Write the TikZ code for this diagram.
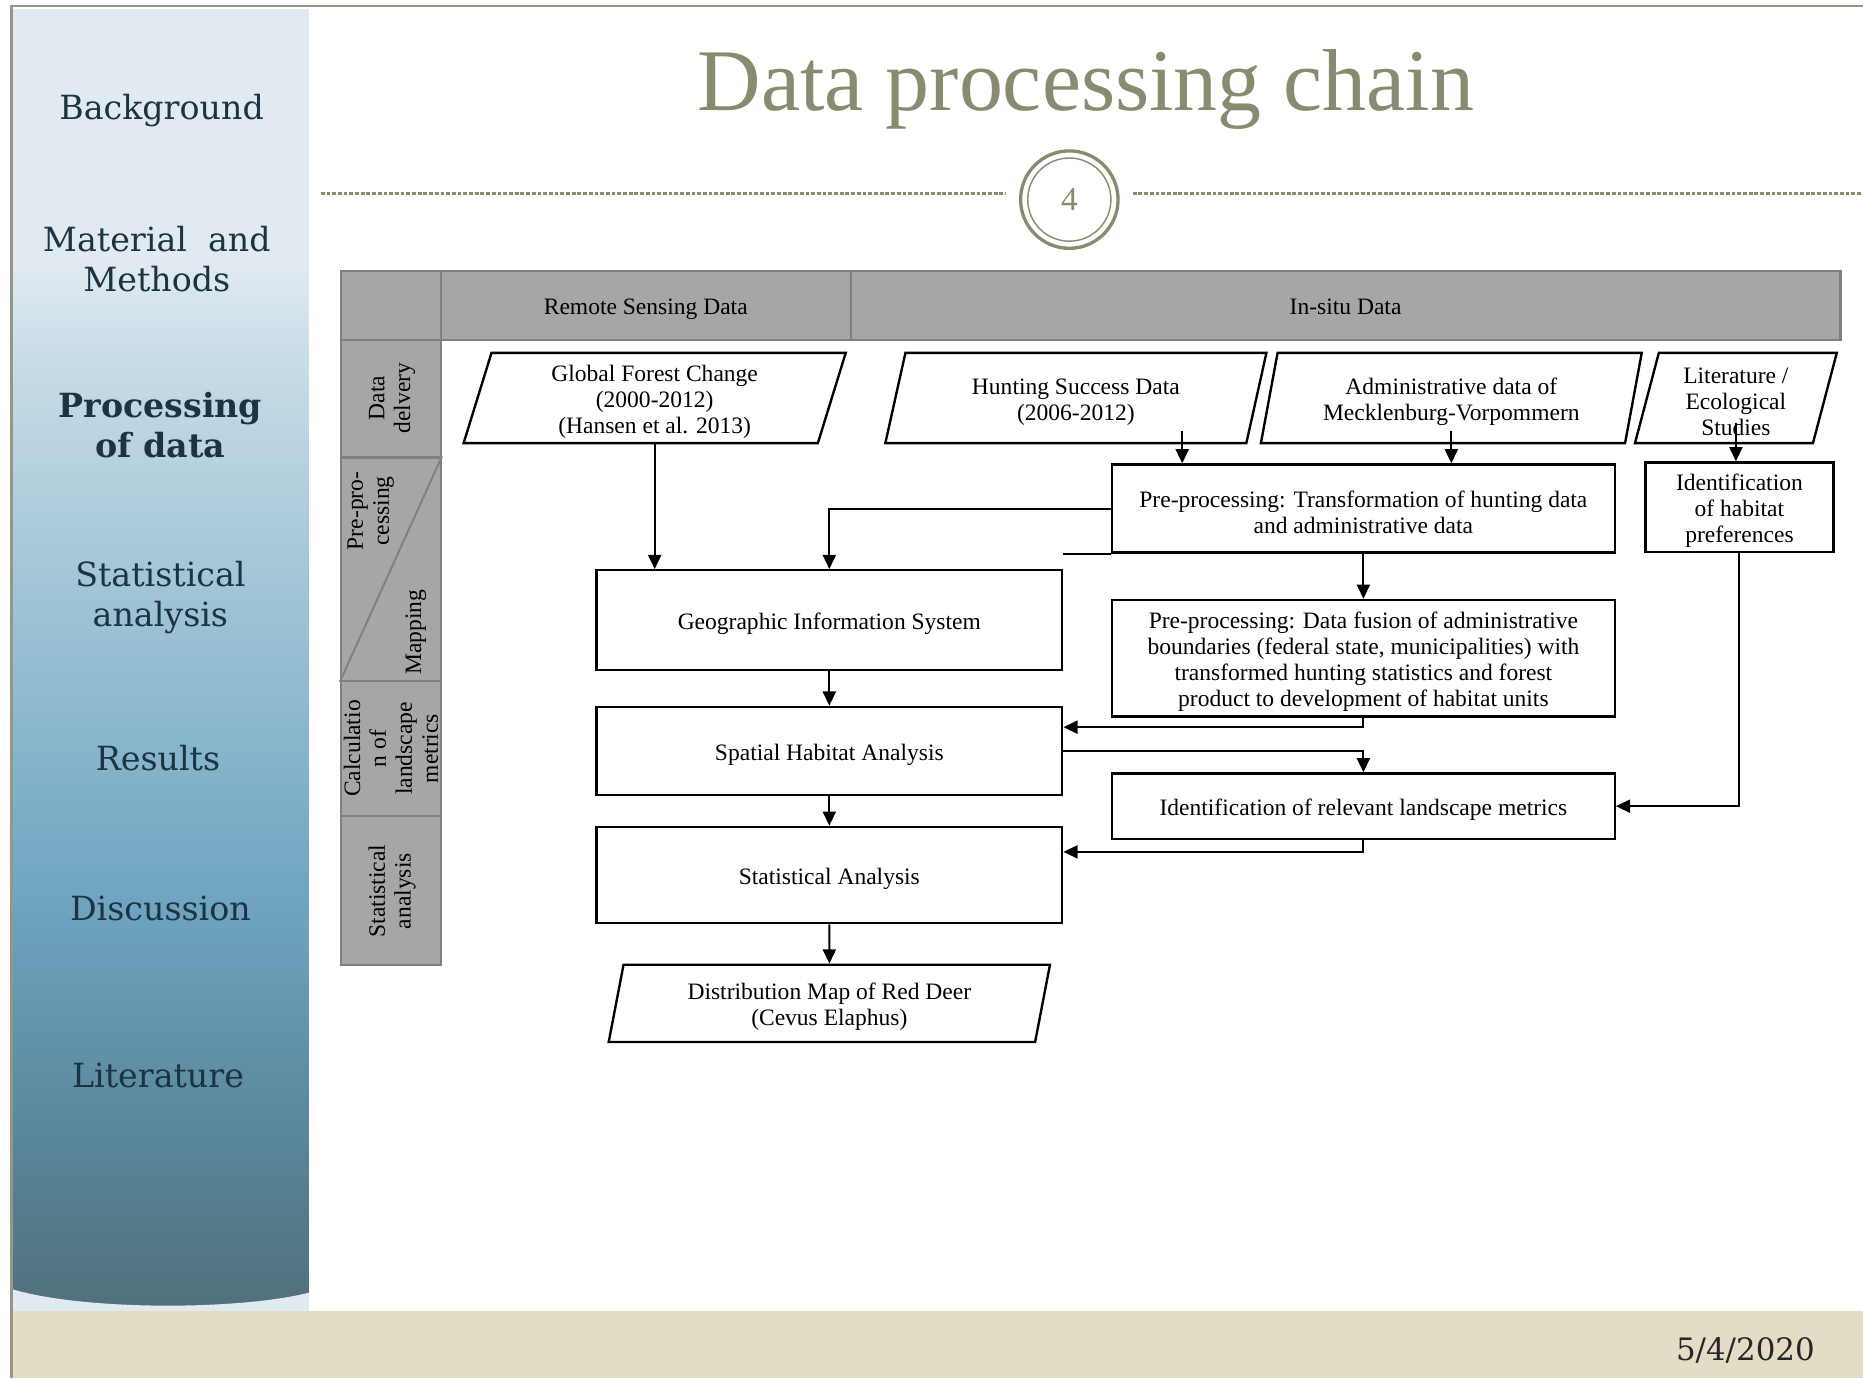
\documentclass[tikz,border=0pt]{standalone}
\usepackage{fontspec}
\setmainfont{Liberation Serif}
\newfontfamily\sidefont{DejaVu Serif}
\usetikzlibrary{arrows.meta,shapes.geometric}
\definecolor{olivegray}{RGB}{138,138,112}
\definecolor{frameline}{RGB}{150,150,132}
\definecolor{hdr}{RGB}{166,166,166}
\definecolor{hdrline}{RGB}{128,128,128}
\definecolor{footfill}{RGB}{227,221,197}
\definecolor{sideL}{RGB}{226,234,241}
\definecolor{sideA}{RGB}{200,220,231}
\definecolor{sideB}{RGB}{160,196,214}
\definecolor{sideC}{RGB}{112,166,194}
\definecolor{sideD}{RGB}{90,135,155}
\definecolor{sideE}{RGB}{80,112,124}
\definecolor{sidetext}{RGB}{28,52,66}
\pgfdeclareverticalshading{sideshade}{100bp}{color(0bp)=(sideE); color(25bp)=(sideE); color(33.5bp)=(sideD); color(44.9bp)=(sideC); color(59.1bp)=(sideB); color(70.4bp)=(sideA); color(75bp)=(sideL); color(100bp)=(sideL)}
\newcommand\dtext{\fontsize{9.9}{10.9}\selectfont}
\newcommand\lowerstrut{\rule{0pt}{9.8pt}}
\begin{document}
\begin{tikzpicture}[x=0.5pt,y=-0.5pt,
  box/.style={draw=black, line width=1pt, fill=white, rectangle, inner sep=2pt, align=center, font=\dtext, execute at begin node=\lowerstrut},
  para/.style={draw=black, line width=1pt, fill=white, trapezium, trapezium left angle=78, trapezium right angle=102, trapezium stretches=true, inner sep=1pt, align=center, font=\dtext, execute at begin node=\lowerstrut},
  hdrcell/.style={draw=hdrline, line width=1pt, fill=hdr, rectangle, inner sep=0pt, align=center, font=\dtext, text depth=2.2pt, execute at begin node=\lowerstrut},
  arr/.style={line width=0.85pt, -{Triangle[length=6pt,width=5.5pt]}},
  conn/.style={line width=0.85pt},
  sidelabel/.style={font=\sidefont\fontsize{14}{17}\selectfont, text=sidetext, align=center},
  sidebold/.style={font=\sidefont\bfseries\fontsize{14}{17}\selectfont, text=sidetext, align=center},
  rot/.style={rotate=90, align=center, font=\dtext},
  dashline/.style={draw=olivegray, line width=1pt, dash pattern=on 1.6pt off 0.8pt}
]
\useasboundingbox (0,0) rectangle (1568,1160);
\fill[white] (0,0) rectangle (1568,1160);
% sidebar
\fill[sideL] (10,8) rectangle (260,1103);
\shade[shading=sideshade] (10,220) rectangle (260,1100);
\fill[sideL] (10,1085) .. controls (70,1103) and (200,1103) .. (260,1088) -- (260,1103) -- (10,1103) -- cycle;
% footer
\fill[footfill] (10,1103) rectangle (1568,1160);
% frame
\draw[frameline, line width=1.2pt] (1568,5) -- (10,5) -- (10,1160);
% sidebar labels
\node[sidelabel] (sbg) at (136,93) {Background};
\node[sidelabel] (smm) at (132,218) {Material\ \ and\\Methods};
\node[sidebold] (spd) at (135,358) {Processing\\of data};
\node[sidelabel] (ssa) at (135,503) {Statistical\\analysis};
\node[sidelabel] (sre) at (133,638) {Results};
\node[sidelabel] (sdi) at (135,765) {Discussion};
\node[sidelabel] (sli) at (133,905) {Literature};
% title
\node[font=\fontsize{37}{41}\selectfont, text=olivegray] (title) at (914,75) {Data processing chain};
\node[circle, draw=olivegray, line width=1.4pt, minimum size=41pt, inner sep=0pt] (num) at (900,168) {};
\node[circle, draw=olivegray, line width=0.6pt, minimum size=35pt, inner sep=0pt, text=olivegray, font=\fontsize{14}{16}\selectfont] (numin) at (900,168) {4};
\coordinate (dl) at (270,163);
\coordinate (dr) at (1568,163);
\draw[dashline] (dl) -- ([xshift=-5.5pt,yshift=2.5pt]num.west);
\draw[dashline] ([xshift=5.5pt,yshift=2.5pt]num.east) -- (dr);
% header
\node[hdrcell, minimum width=42pt, minimum height=29pt] (h0) at (329,257) {};
\node[hdrcell, minimum width=172.5pt, minimum height=29pt] (hrs) at (543.5,257) {Remote Sensing Data};
\node[hdrcell, minimum width=416.5pt, minimum height=29pt] (his) at (1132.5,257) {In-situ Data};
% left column
\node[hdrcell, minimum width=42pt, minimum height=49.5pt] (c1) at (329,335.5) {};
\node[hdrcell, minimum width=42pt, minimum height=94pt] (c2) at (329,479) {};
\node[hdrcell, minimum width=42pt, minimum height=57pt] (c3) at (329,630) {};
\node[hdrcell, minimum width=42pt, minimum height=62.5pt] (c4) at (329,749.5) {};
\draw[hdrline, line width=0.8pt] (c2.north east) -- (c2.south west);
\node[rot] (t1) at (330,335) {Data\\delvery};
\node[rot] (t2) at (312,430) {Pre-pro-\\cessing};
\node[rot] (t3) at (350,532) {Mapping};
\node[rot] (t4) at (329,630) {Calculatio\\n of\\landscape\\metrics};
\node[rot] (t5) at (330,750) {Statistical\\analysis};
% data sources
\node[para, minimum width=161pt, minimum height=38pt] (gfc) at (551,335) {\lowerstrut Global Forest Change\\(2000-2012)\\(Hansen et al. 2013)};
\node[para, minimum width=160.5pt, minimum height=38pt] (hunt) at (905.5,335) {\lowerstrut Hunting Success Data\\(2006-2012)};
\node[para, minimum width=160.5pt, minimum height=38pt] (admin) at (1221.5,335) {\lowerstrut Administrative data of\\Mecklenburg-Vorpommern};
\node[para, minimum width=85pt, minimum height=38pt] (lit) at (1461,335) {\lowerstrut Literature /\\Ecological\\Studies};
% process boxes
\node[box, minimum width=211.5pt, minimum height=37pt] (pre1) at (1147.5,428) {\lowerstrut Pre-processing: Transformation of hunting data\\and administrative data};
\node[box, minimum width=79pt, minimum height=37pt] (hab) at (1464,427) {\lowerstrut Identification\\of habitat\\preferences};
\node[box, minimum width=196pt, minimum height=42pt] (gis) at (698,522) {Geographic Information System};
\node[box, minimum width=211.5pt, minimum height=49pt] (pre2) at (1147.5,554) {\lowerstrut Pre-processing: Data fusion of administrative\\boundaries (federal state, municipalities) with\\transformed hunting statistics and forest\\product to development of habitat units};
\node[box, minimum width=196pt, minimum height=37pt] (spatial) at (698,632) {Spatial Habitat Analysis};
\node[box, minimum width=211.5pt, minimum height=27.5pt] (ident) at (1147.5,678.5) {Identification of relevant landscape metrics};
\node[box, minimum width=196pt, minimum height=40.5pt] (stat) at (698,736.5) {Statistical Analysis};
\node[para, trapezium left angle=80, trapezium right angle=100, minimum width=186pt, minimum height=32.5pt] (dist) at (698,844.5) {\lowerstrut Distribution Map of Red Deer\\(Cevus Elaphus)};
% connectors
\draw[arr] (gfc.south) -- (gfc.south |- gis.north);
\draw[arr] (pre1.west) -| (gis.north);
\draw[conn] (pre1.south west) -- (pre1.south west -| gis.east);
\draw[arr] ([xshift=44.75pt,yshift=5.5pt]hunt.south) coordinate (hs) -- (hs |- pre1.north);
\draw[arr] ([yshift=5.5pt]admin.south) coordinate (as) -- (as |- pre1.north);
\draw[arr] ([yshift=9pt]lit.south) coordinate (ls) -- (ls |- hab.north);
\draw[arr] (pre1.south) -- (pre2.north);
\draw[arr] (gis.south) -- (spatial.north);
\draw[arr] (pre2.south) |- ([yshift=10pt]spatial.east);
\draw[arr] (spatial.east) -| (ident.north);
\draw[arr] (hab.south) |- (ident.east);
\draw[arr] (ident.south) |- ([yshift=9.75pt]stat.east);
\draw[arr] (spatial.south) -- (stat.north);
\draw[arr] (stat.south) -- (dist.north);
% footer date
\node[font=\sidefont\fontsize{13}{15}\selectfont, text=black!85] (date) at (1469,1137) {5/4/2020};
\end{tikzpicture}
\end{document}
